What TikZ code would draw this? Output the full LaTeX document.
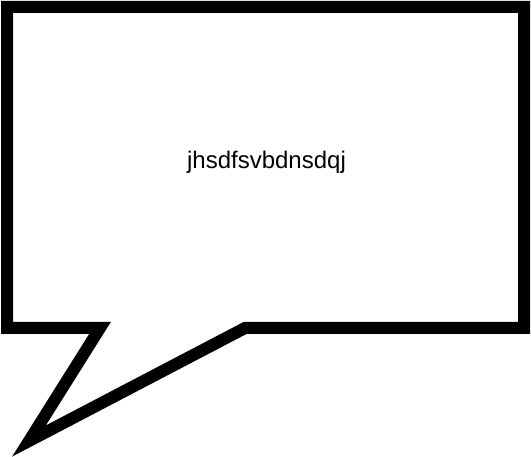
\documentclass[tikz,border=0pt]{standalone}
\usepackage{fontspec}
\setmainfont{Liberation Sans}
\usepackage{tikz}

\begin{document}
\begin{tikzpicture}[x=1pt,y=-1pt,
  bubble/.style={line width=12pt,line join=miter,fill=white},
  label/.style={font=\fontsize{24}{28}\selectfont,inner sep=0pt,anchor=base}]
  \useasboundingbox (0,0) rectangle (531,457);
  \draw[bubble] (7,7) -- (524,7) -- (524,328) -- (245,328) -- (29,441)
    -- (100,328) -- (7,328) -- cycle;
  \node[label] (txt) at (266.5,168.3) {jhsdfsvbdnsdqj};
\end{tikzpicture}
\end{document}
